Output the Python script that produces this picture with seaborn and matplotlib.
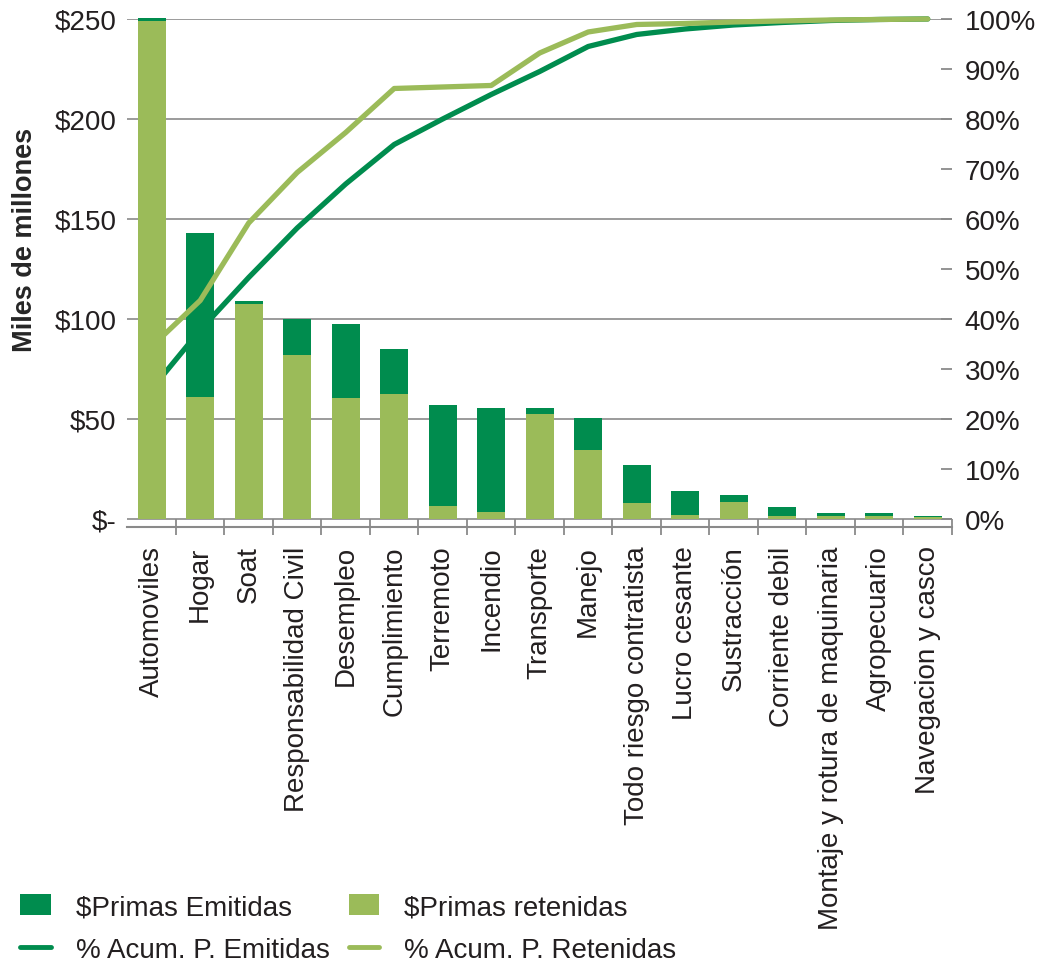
import numpy as np
import pandas as pd
import matplotlib
matplotlib.use("Agg")
import matplotlib.pyplot as plt
import seaborn as sns
from matplotlib.patches import Patch
from matplotlib.lines import Line2D
from matplotlib.ticker import FixedLocator

# ---- data -------------------------------------------------------------
categorias = [
    "Automoviles", "Hogar", "Soat", "Responsabilidad Civil", "Desempleo",
    "Cumplimiento", "Terremoto", "Incendio", "Transporte", "Manejo",
    "Todo riesgo contratista", "Lucro cesante", "Sustracción",
    "Corriente debil", "Montaje y rotura de maquinaria", "Agropecuario",
    "Navegacion y casco",
]
# miles de millones de pesos
primas_emitidas = [250.4, 142.9, 108.8, 100.2, 97.5, 84.9, 56.8, 55.3, 55.3,
                   50.3, 26.9, 14.0, 12.0, 6.0, 3.0, 3.0, 1.5]
primas_retenidas = [249.2, 60.9, 107.4, 81.8, 60.6, 62.3, 6.5, 3.3, 52.3,
                    34.4, 8.0, 2.2, 8.5, 1.5, 1.5, 1.5, 1.0]
# porcentaje acumulado
acum_emitidas = [26.0, 37.8, 48.3, 58.2, 67.0, 74.9, 80.0, 84.9, 89.5,
                 94.5, 96.9, 98.0, 98.8, 99.3, 99.7, 99.9, 100.0]
acum_retenidas = [34.5, 43.7, 59.2, 69.3, 77.3, 86.1, 86.4, 86.7, 93.2,
                  97.4, 98.9, 99.1, 99.4, 99.6, 99.8, 99.9, 100.0]

ticks_dinero = [0, 50, 100, 150, 200, 250]
etiquetas_dinero = ["$-", "$50", "$100", "$150", "$200", "$250"]
ticks_pct = list(range(0, 101, 10))
etiquetas_pct = [f"{t}%" for t in ticks_pct]

# ---- style ------------------------------------------------------------
VERDE = "#008C4E"
VERDE_CLARO = "#9BBB59"
GRIS = "#8A8A8A"
TEXTO = "#231F20"

sns.set_theme(style="white")
plt.rcParams["font.family"] = ["Liberation Sans", "DejaVu Sans"]
plt.rcParams["text.parse_math"] = False
plt.rcParams["text.color"] = TEXTO
plt.rcParams["xtick.color"] = TEXTO
plt.rcParams["ytick.color"] = TEXTO

FS = 20

fig = plt.figure(figsize=(10.38, 9.70), dpi=100)
ax = fig.add_axes([0.1228, 0.4554, 0.7943, 0.5240])

df = pd.DataFrame({
    "Ramo": categorias,
    "Emitidas": primas_emitidas,
    "Retenidas": primas_retenidas,
})

# bars: issued premiums behind, retained premiums in front
bar_kw = dict(saturation=1, width=0.57, ax=ax, zorder=2, clip_on=False,
              edgecolor="none", linewidth=0)
sns.barplot(data=df, x="Ramo", y="Emitidas", color=VERDE, **bar_kw)
sns.barplot(data=df, x="Ramo", y="Retenidas", color=VERDE_CLARO, **bar_kw)
# the leading category sits in front of the cumulative lines
for cont in ax.containers:
    cont[0].set_zorder(4)

# cumulative percentage lines, on the same axes; the right axis maps 100% -> $250
Y_MAX = 250
PCT_A_DINERO = Y_MAX / 100.0
x = np.arange(len(categorias))
sns.lineplot(x=x, y=np.array(acum_emitidas) * PCT_A_DINERO, color=VERDE,
             linewidth=3.8, ax=ax, zorder=3, clip_on=False, sort=False,
             legend=False)
sns.lineplot(x=x, y=np.array(acum_retenidas) * PCT_A_DINERO, color=VERDE_CLARO,
             linewidth=3.8, ax=ax, zorder=3, clip_on=False, sort=False,
             legend=False)

ax.set_xlim(-0.5, len(categorias) - 0.5)
ax.set_ylim(-4.15, Y_MAX)

# left axis
ax.set_yticks(ticks_dinero)
ax.set_yticklabels(etiquetas_dinero)
ax.tick_params(axis="y", length=0, pad=8, labelsize=FS)
ax.yaxis.grid(True, color=GRIS, linewidth=1.2)
ax.xaxis.grid(False)
ax.set_axisbelow(True)
ax.set_ylabel("Miles de millones", fontsize=19.5, fontweight="bold")
ax.yaxis.set_label_coords(-0.109, 0.567)

# bottom axis: labels at centres, tick marks between categories
ax.set_xticks(x)
ax.set_xticklabels(categorias, rotation=90)
ax.set_xlabel("")
ax.tick_params(axis="x", which="major", length=0, pad=13, labelsize=FS)
ax.xaxis.set_minor_locator(FixedLocator(np.arange(0.5, len(categorias), 1.0)))
ax.tick_params(axis="x", which="minor", direction="inout", length=11,
               width=1.3, color=GRIS, bottom=True)

for side in ["left", "right", "top"]:
    ax.spines[side].set_visible(False)
ax.spines["bottom"].set_color(GRIS)
ax.spines["bottom"].set_linewidth(1.5)

# right axis in percent
sec = ax.secondary_yaxis("right", functions=(lambda v: v / PCT_A_DINERO,
                                             lambda p: p * PCT_A_DINERO))
sec.set_yticks(ticks_pct)
sec.set_yticklabels(etiquetas_pct)
sec.tick_params(direction="in", length=8, width=1.3, color=GRIS, pad=9,
                labelsize=FS)
sec.spines["right"].set_visible(False)

# legend
handles = [
    Patch(facecolor=VERDE, edgecolor="none", label="$Primas Emitidas"),
    Line2D([], [], color=VERDE, linewidth=3.5, label="% Acum. P. Emitidas"),
    Patch(facecolor=VERDE_CLARO, edgecolor="none", label="$Primas retenidas"),
    Line2D([], [], color=VERDE_CLARO, linewidth=3.5, label="% Acum. P. Retenidas"),
]
fig.legend(handles=handles, ncol=2, loc="upper left",
           bbox_to_anchor=(20 / 1038, 1 - 895 / 970), frameon=False,
           fontsize=FS, handlelength=1.1, handleheight=0.8,
           handletextpad=0.9, columnspacing=0.7, labelspacing=0.6,
           borderpad=0, borderaxespad=0)

fig.savefig("out.png", dpi=100)
